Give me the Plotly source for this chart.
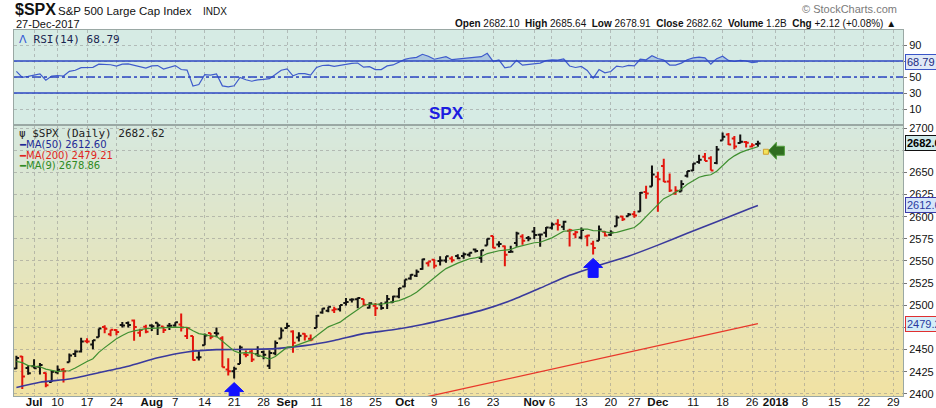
import plotly.graph_objects as go
import pandas as pd

# ---------------- data ----------------
DATES = [
    "2017-06-28", "2017-06-29", "2017-06-30", "2017-07-03", "2017-07-05", "2017-07-06", "2017-07-07",
    "2017-07-10", "2017-07-11", "2017-07-12", "2017-07-13", "2017-07-14",
    "2017-07-17", "2017-07-18", "2017-07-19", "2017-07-20", "2017-07-21",
    "2017-07-24", "2017-07-25", "2017-07-26", "2017-07-27", "2017-07-28",
    "2017-07-31", "2017-08-01", "2017-08-02", "2017-08-03", "2017-08-04",
    "2017-08-07", "2017-08-08", "2017-08-09", "2017-08-10", "2017-08-11",
    "2017-08-14", "2017-08-15", "2017-08-16", "2017-08-17", "2017-08-18",
    "2017-08-21", "2017-08-22", "2017-08-23", "2017-08-24", "2017-08-25",
    "2017-08-28", "2017-08-29", "2017-08-30", "2017-08-31", "2017-09-01",
    "2017-09-05", "2017-09-06", "2017-09-07", "2017-09-08",
    "2017-09-11", "2017-09-12", "2017-09-13", "2017-09-14", "2017-09-15",
    "2017-09-18", "2017-09-19", "2017-09-20", "2017-09-21", "2017-09-22",
    "2017-09-25", "2017-09-26", "2017-09-27", "2017-09-28", "2017-09-29",
    "2017-10-02", "2017-10-03", "2017-10-04", "2017-10-05", "2017-10-06",
    "2017-10-09", "2017-10-10", "2017-10-11", "2017-10-12", "2017-10-13",
    "2017-10-16", "2017-10-17", "2017-10-18", "2017-10-19", "2017-10-20",
    "2017-10-23", "2017-10-24", "2017-10-25", "2017-10-26", "2017-10-27",
    "2017-10-30", "2017-10-31", "2017-11-01", "2017-11-02", "2017-11-03",
    "2017-11-06", "2017-11-07", "2017-11-08", "2017-11-09", "2017-11-10",
    "2017-11-13", "2017-11-14", "2017-11-15", "2017-11-16", "2017-11-17",
    "2017-11-20", "2017-11-21", "2017-11-22", "2017-11-24",
    "2017-11-27", "2017-11-28", "2017-11-29", "2017-11-30", "2017-12-01",
    "2017-12-04", "2017-12-05", "2017-12-06", "2017-12-07", "2017-12-08",
    "2017-12-11", "2017-12-12", "2017-12-13", "2017-12-14", "2017-12-15",
    "2017-12-18", "2017-12-19", "2017-12-20", "2017-12-21", "2017-12-22",
    "2017-12-26", "2017-12-27",
]
OPEN = [
    2428.70, 2442.38, 2429.20, 2431.39, 2430.78, 2423.65, 2413.52,
    2424.51, 2427.35, 2435.75, 2444.99, 2448.02,
    2459.50, 2455.88, 2463.85, 2475.56, 2467.40,
    2472.04, 2477.88, 2479.97, 2482.76, 2469.12,
    2475.94, 2477.10, 2480.38, 2476.03, 2476.88,
    2477.14, 2478.35, 2465.35, 2465.38, 2441.04,
    2454.96, 2468.66, 2468.63, 2462.95, 2427.64,
    2425.50, 2433.75, 2444.88, 2447.91, 2444.72,
    2447.35, 2431.94, 2446.06, 2462.65, 2474.42,
    2470.35, 2463.83, 2468.06, 2462.25,
    2474.52, 2491.94, 2493.89, 2494.56, 2495.67,
    2502.51, 2506.29, 2506.84, 2507.16, 2497.26,
    2499.39, 2501.04, 2503.30, 2503.41, 2510.00,
    2521.20, 2530.34, 2533.48, 2540.86, 2547.44,
    2551.39, 2549.99, 2550.62, 2552.88, 2555.66,
    2555.57, 2557.17, 2562.87, 2553.39, 2567.56,
    2578.08, 2568.66, 2566.52, 2560.08, 2570.26,
    2577.75, 2575.99, 2583.21, 2579.46, 2581.93,
    2587.47, 2592.11, 2588.71, 2584.00, 2580.18,
    2576.53, 2577.75, 2569.45, 2572.95, 2582.94,
    2579.49, 2589.17, 2600.31, 2600.42,
    2602.66, 2605.94, 2627.82, 2633.93, 2645.10,
    2657.19, 2639.78, 2626.24, 2628.38, 2646.21,
    2652.19, 2661.73, 2667.59, 2665.87, 2660.63,
    2685.92, 2692.71, 2688.18, 2683.02, 2684.22,
    2679.09, 2682.10,
]
HIGH = [
    2442.97, 2442.73, 2432.71, 2439.17, 2434.90, 2424.28, 2426.92,
    2432.00, 2429.30, 2445.76, 2449.32, 2463.54,
    2462.82, 2460.92, 2473.83, 2477.62, 2472.54,
    2473.10, 2481.24, 2481.69, 2484.04, 2473.53,
    2477.96, 2478.51, 2480.38, 2476.03, 2480.00,
    2480.95, 2490.87, 2474.41, 2465.38, 2448.09,
    2468.22, 2468.90, 2474.93, 2465.02, 2440.27,
    2430.58, 2454.77, 2448.91, 2450.39, 2453.96,
    2449.12, 2449.19, 2460.31, 2475.01, 2480.38,
    2471.97, 2469.64, 2468.62, 2467.11,
    2488.95, 2496.77, 2498.37, 2498.43, 2500.23,
    2508.32, 2507.84, 2508.85, 2507.16, 2503.47,
    2502.54, 2503.51, 2511.75, 2510.81, 2519.44,
    2529.23, 2535.13, 2540.53, 2552.51, 2549.41,
    2551.82, 2555.23, 2555.24, 2555.33, 2557.65,
    2559.47, 2559.71, 2564.11, 2562.36, 2575.44,
    2578.29, 2572.18, 2567.40, 2567.07, 2582.98,
    2580.03, 2578.29, 2588.40, 2581.11, 2588.42,
    2593.38, 2597.02, 2595.47, 2586.50, 2583.81,
    2587.66, 2579.66, 2572.84, 2590.09, 2583.96,
    2584.64, 2601.19, 2600.94, 2604.21,
    2606.41, 2627.69, 2634.89, 2657.74, 2650.62,
    2665.19, 2648.72, 2634.41, 2640.99, 2651.65,
    2660.33, 2669.72, 2671.88, 2668.09, 2679.63,
    2694.97, 2694.44, 2691.01, 2692.64, 2685.35,
    2682.74, 2685.64,
]
LOW = [
    2428.02, 2405.70, 2421.65, 2428.69, 2422.05, 2407.70, 2413.52,
    2422.27, 2412.79, 2435.75, 2441.69, 2446.69,
    2457.16, 2450.34, 2463.85, 2468.43, 2465.06,
    2466.32, 2474.91, 2474.94, 2459.93, 2464.66,
    2468.53, 2471.14, 2466.48, 2468.85, 2472.08,
    2475.88, 2470.32, 2462.08, 2437.75, 2437.85,
    2454.96, 2461.61, 2463.86, 2430.01, 2420.69,
    2417.35, 2433.67, 2441.42, 2436.19, 2442.22,
    2439.03, 2428.20, 2443.77, 2462.65, 2473.85,
    2446.55, 2459.20, 2460.29, 2459.40,
    2474.52, 2490.37, 2492.14, 2491.35, 2493.16,
    2499.92, 2503.19, 2496.67, 2499.00, 2496.54,
    2488.03, 2495.12, 2495.91, 2502.93, 2507.99,
    2520.40, 2528.85, 2531.80, 2540.02, 2543.79,
    2541.60, 2544.86, 2547.95, 2548.31, 2552.09,
    2552.64, 2554.69, 2559.67, 2547.92, 2567.56,
    2564.33, 2565.58, 2544.00, 2559.80, 2565.94,
    2568.25, 2572.15, 2574.92, 2566.17, 2576.77,
    2585.66, 2584.35, 2585.02, 2566.33, 2575.57,
    2574.48, 2566.56, 2557.45, 2572.95, 2577.62,
    2578.24, 2589.17, 2595.23, 2600.42,
    2598.87, 2605.44, 2620.32, 2633.93, 2605.52,
    2639.03, 2627.73, 2624.75, 2628.38, 2644.10,
    2651.47, 2659.78, 2662.85, 2652.01, 2659.14,
    2685.92, 2680.74, 2676.11, 2682.40, 2678.13,
    2677.96, 2678.91,
]
CLOSE = [
    2440.69, 2419.70, 2423.41, 2429.01, 2432.54, 2409.75, 2425.18,
    2427.43, 2425.53, 2443.25, 2447.83, 2459.27,
    2459.14, 2460.61, 2473.83, 2473.45, 2472.54,
    2469.91, 2477.13, 2477.83, 2475.42, 2472.10,
    2470.30, 2476.35, 2477.57, 2472.16, 2476.83,
    2480.91, 2474.92, 2474.02, 2438.21, 2441.32,
    2465.84, 2464.61, 2468.11, 2430.01, 2425.55,
    2428.37, 2452.51, 2444.04, 2438.97, 2443.05,
    2444.24, 2446.30, 2457.59, 2471.65, 2476.55,
    2457.85, 2465.54, 2465.10, 2461.43,
    2488.11, 2496.48, 2498.37, 2495.62, 2500.23,
    2503.87, 2506.65, 2508.24, 2500.60, 2502.22,
    2496.66, 2496.84, 2507.04, 2510.06, 2519.36,
    2529.12, 2534.58, 2537.74, 2552.07, 2549.33,
    2544.73, 2550.64, 2555.24, 2550.93, 2553.17,
    2557.64, 2559.36, 2561.26, 2562.10, 2575.21,
    2564.98, 2569.13, 2557.15, 2560.40, 2581.07,
    2572.83, 2575.26, 2579.36, 2579.85, 2587.84,
    2591.13, 2590.64, 2594.38, 2584.62, 2582.30,
    2584.84, 2578.87, 2564.62, 2585.64, 2578.85,
    2582.14, 2599.03, 2597.08, 2602.42,
    2601.42, 2627.04, 2626.07, 2647.58, 2642.22,
    2639.44, 2629.57, 2629.27, 2636.98, 2651.50,
    2659.99, 2664.11, 2662.85, 2652.01, 2675.81,
    2690.16, 2681.47, 2679.25, 2684.57, 2683.34,
    2680.50, 2682.62,
]
PRIOR_CLOSE = 2419.38  # close of the session before the first bar

MA9 = [
    2436.80, 2435.30, 2431.97, 2431.07, 2430.73, 2427.98, 2426.53, 2425.23, 2425.92, 2426.20,
    2429.33, 2433.31, 2436.66, 2439.78, 2446.90, 2452.26, 2457.27, 2462.20, 2465.97, 2469.30,
    2471.10, 2472.54, 2473.61, 2473.89, 2474.35, 2474.31, 2475.08, 2475.50, 2475.17, 2475.02,
    2471.25, 2468.03, 2466.86, 2465.42, 2464.97, 2459.77, 2453.62, 2448.45, 2446.06, 2446.71,
    2446.45, 2443.91, 2441.65, 2439.23, 2442.29, 2447.41, 2452.77, 2453.36, 2455.75, 2458.65,
    2460.69, 2465.57, 2471.14, 2475.68, 2478.34, 2480.97, 2486.08, 2490.65, 2495.44, 2499.80,
    2501.36, 2501.38, 2501.21, 2502.48, 2503.58, 2505.30, 2507.79, 2510.72, 2514.85, 2520.39,
    2526.24, 2531.56, 2536.40, 2541.42, 2544.93, 2547.60, 2550.17, 2552.57, 2553.59, 2555.01,
    2558.39, 2559.99, 2561.53, 2562.22, 2563.03, 2565.63, 2567.13, 2568.68, 2570.60, 2571.11,
    2573.65, 2576.10, 2579.82, 2583.60, 2583.99, 2585.04, 2586.11, 2586.05, 2584.36, 2584.12,
    2582.75, 2581.81, 2582.32, 2583.71, 2585.94, 2587.79, 2593.14, 2599.97, 2606.85, 2613.89,
    2620.26, 2623.65, 2627.23, 2631.07, 2636.63, 2640.29, 2644.52, 2646.21, 2647.30, 2651.34,
    2658.08, 2663.88, 2668.57, 2672.25, 2674.84, 2676.66, 2678.86,
]
RSI14 = [
    57.0, 49.6, 50.8, 52.7, 53.9, 45.9, 51.2, 51.9, 51.2, 57.0,
    58.4, 61.7, 61.7, 62.1, 66.0, 65.8, 65.3, 63.7, 66.1, 66.4,
    64.7, 62.3, 61.1, 63.8, 64.3, 60.0, 62.4, 64.3, 59.4, 58.7,
    38.7, 40.6, 52.9, 52.3, 53.9, 38.9, 37.6, 39.0, 49.5, 46.5,
    44.7, 46.5, 47.0, 47.9, 53.0, 58.4, 60.1, 51.4, 54.3, 54.1,
    52.4, 62.0, 64.4, 64.9, 63.4, 64.9, 66.1, 67.0, 67.5, 62.3,
    63.0, 59.2, 59.3, 63.9, 65.1, 68.7, 72.0, 73.7, 74.6, 78.4,
    76.0, 72.2, 74.0, 75.4, 71.6, 72.4, 73.9, 74.5, 75.1, 75.4,
    79.6, 69.6, 71.2, 61.3, 62.8, 70.7, 64.8, 65.7, 67.2, 67.4,
    70.4, 71.5, 71.1, 72.5, 63.8, 61.9, 63.2, 58.2, 48.4, 59.3,
    55.2, 56.8, 63.7, 62.5, 64.5, 63.8, 72.2, 71.5, 76.7, 73.1,
    71.2, 64.9, 64.8, 67.4, 71.6, 73.8, 74.8, 73.9, 66.2, 72.9,
    75.9, 70.7, 69.4, 70.8, 70.0, 68.1, 68.79,
]
MA50_DATES = [
    "2017-06-28", "2017-07-05", "2017-07-12", "2017-07-19", "2017-07-26", "2017-08-02",
    "2017-08-09", "2017-08-16", "2017-08-23", "2017-08-30", "2017-09-07", "2017-09-14",
    "2017-09-21", "2017-09-28", "2017-10-05", "2017-10-12", "2017-10-19", "2017-10-26",
    "2017-11-02", "2017-11-09", "2017-11-16", "2017-11-24", "2017-12-01", "2017-12-08",
    "2017-12-15", "2017-12-22", "2017-12-27",
]
MA50 = [
    2407.2, 2413.2, 2416.9, 2424.0, 2431.3, 2440.8,
    2447.4, 2450.0, 2450.3, 2451.1, 2454.5, 2460.4,
    2468.1, 2472.4, 2478.4, 2486.0, 2494.3, 2505.3,
    2519.4, 2533.8, 2545.0, 2555.4, 2567.9, 2581.4,
    2594.2, 2607.6, 2612.60,
]
MA200_DATES = ["2017-10-05", "2017-10-19", "2017-11-02", "2017-11-16", "2017-12-01", "2017-12-15", "2017-12-27"]
MA200 = [2395.8, 2410.3, 2424.8, 2439.8, 2454.3, 2468.9, 2479.21]

TICK_DATES = [
    "2017-07-03", "2017-07-10", "2017-07-17", "2017-07-24", "2017-08-01", "2017-08-07",
    "2017-08-14", "2017-08-21", "2017-08-28", "2017-09-01", "2017-09-11", "2017-09-18",
    "2017-09-25", "2017-10-02", "2017-10-09", "2017-10-16", "2017-10-23", "2017-11-01",
    "2017-11-06", "2017-11-13", "2017-11-20", "2017-11-27", "2017-12-01", "2017-12-11",
    "2017-12-18", "2017-12-26", "2018-01-01", "2018-01-08", "2018-01-15", "2018-01-22",
    "2018-01-29",
]
TICK_TEXT = [
    "<b>Jul</b>", "10", "17", "24", "<b>Aug</b>", "7",
    "14", "21", "28", "<b>Sep</b>", "11", "18",
    "25", "<b>Oct</b>", "9", "16", "23", "<b>Nov</b>",
    "6", "13", "20", "27", "<b>Dec</b>", "11",
    "18", "26", "<b>2018</b>", "8", "15", "22",
    "29",
]
PRICE_TICKS = [2400, 2425, 2450, 2475, 2500, 2525, 2550, 2575, 2600, 2625, 2650, 2675, 2700]
PRICE_TICK_TEXT = ["2400", "2425", "2450", "", "2500", "2525", "2550", "2575", "2600", "2625", "2650", "", "2700"]
RSI_TICKS = [10, 30, 50, 70, 90]
RSI_TICK_TEXT = ["10", "30", "50", "", "90"]
SIGNAL_DATES = ["2017-08-21", "2017-11-15"]  # blue up-arrows under these bars

assert len(DATES) == len(OPEN) == len(HIGH) == len(LOW) == len(CLOSE) == len(MA9) == len(RSI14)

# ---------------- geometry / styling ----------------
W, H = 936, 408
PL, PR, PT, PB = 14, 903, 30, 396
SPLIT = 125
SPLIT_F = (PB - SPLIT) / (PB - PT)

FUTURE = pd.bdate_range("2017-12-28", "2018-01-31").strftime("%Y-%m-%d").tolist()
CAL = DATES + FUTURE
POS = {d: i for i, d in enumerate(CAL)}
X = [POS[d] for d in DATES]
DAY_PX = 5.885
FIRST_PX = 16.4
XRANGE = [-(FIRST_PX - PL) / DAY_PX, (PR - FIRST_PX) / DAY_PX]

GRID = "rgba(140,140,140,0.5)"
BORDER = "#9aa8a4"
UP_COL = "#111111"
DN_COL = "#e3140c"


def ax(xp):
    return (xp - PL) / (PR - PL)


def ay(yp):
    return (PB - yp) / (PB - PT)


prev = [PRIOR_CLOSE] + CLOSE[:-1]
up_idx = [i for i in range(len(CLOSE)) if CLOSE[i] >= prev[i]]
dn_idx = [i for i in range(len(CLOSE)) if CLOSE[i] < prev[i]]


def ohlc(idx, col):
    return go.Ohlc(
        x=[X[i] for i in idx], open=[OPEN[i] for i in idx], high=[HIGH[i] for i in idx],
        low=[LOW[i] for i in idx], close=[CLOSE[i] for i in idx],
        increasing=dict(line=dict(color=col, width=2)),
        decreasing=dict(line=dict(color=col, width=2)),
        tickwidth=0.45, xaxis="x", yaxis="y", hoverinfo="skip", showlegend=False,
    )


traces = []
# RSI panel
traces.append(go.Scatter(x=X, y=[70] * len(X), mode="lines", line=dict(width=0),
                         xaxis="x2", yaxis="y2", hoverinfo="skip"))
traces.append(go.Scatter(x=X, y=[max(v, 70) for v in RSI14], mode="lines", line=dict(width=0),
                         fill="tonexty", fillcolor="rgba(95,135,215,0.35)",
                         xaxis="x2", yaxis="y2", hoverinfo="skip"))
traces.append(go.Scatter(x=X, y=RSI14, mode="lines", line=dict(color="#3f5ccc", width=1.2),
                         xaxis="x2", yaxis="y2", hoverinfo="skip"))
# price panel
traces.append(go.Scatter(x=[POS[d] for d in MA200_DATES], y=MA200, mode="lines",
                         line=dict(color="#e8382a", width=1.3), xaxis="x", yaxis="y"))
traces.append(go.Scatter(x=[POS[d] for d in MA50_DATES], y=MA50, mode="lines",
                         line=dict(color="#3a3a9c", width=1.6, shape="spline", smoothing=0.6),
                         xaxis="x", yaxis="y"))
traces.append(go.Scatter(x=X, y=MA9, mode="lines", line=dict(color="#3f8f30", width=1.2),
                         xaxis="x", yaxis="y"))
traces.append(ohlc(up_idx, UP_COL))
traces.append(ohlc(dn_idx, DN_COL))

fig = go.Figure(data=traces)

# ---------------- shapes ----------------
shapes = []
N = 60
top = (214, 232, 222)
bot = (241, 226, 163)
for k in range(N):
    f = (k + 0.5) / N
    c = tuple(round(bot[j] + (top[j] - bot[j]) * f) for j in range(3))
    shapes.append(dict(type="rect", xref="x domain", yref="y domain", x0=0, x1=1,
                       y0=k / N, y1=min(1, (k + 1.6) / N), layer="below",
                       fillcolor="rgb(%d,%d,%d)" % c, line=dict(width=0)))
for lvl, dash in ((70, "solid"), (30, "solid"), (50, "dashdot")):
    shapes.append(dict(type="line", xref="x2 domain", yref="y2", x0=0, x1=1, y0=lvl, y1=lvl,
                       line=dict(color="#2d47c4", width=1.3, dash=dash)))

ARROW_UP = "M 0,-4 L 9.5,-13 L 5,-13 L 5,-23 L -5,-23 L -5,-13 L -9.5,-13 Z"
for d in SIGNAL_DATES:
    i = DATES.index(d)
    shapes.append(dict(type="path", xref="x", yref="y", xsizemode="pixel", ysizemode="pixel",
                       xanchor=X[i], yanchor=LOW[i], path=ARROW_UP,
                       fillcolor="#1212ff", line=dict(color="#1212ff", width=1)))
# green marker arrow and yellow square next to the last bar
shapes.append(dict(type="path", xref="x", yref="y", xsizemode="pixel", ysizemode="pixel",
                   xanchor=X[-1], yanchor=MA9[-1],
                   path="M 10.5,-4 L 18.5,4.5 L 18.5,0.5 L 26.5,0.5 L 26.5,-8.5 L 18.5,-8.5 L 18.5,-12.5 Z",
                   fillcolor="#2f6d1f", line=dict(color="#55a040", width=1)))
shapes.append(dict(type="rect", xref="x", yref="y", xsizemode="pixel", ysizemode="pixel",
                   xanchor=X[-1], yanchor=MA9[-1], x0=5.5, x1=10.5, y0=-7.5, y1=-2.5,
                   fillcolor="#f3e35a", line=dict(color="#d0a030", width=1)))

# ---------------- annotations ----------------
ann = []


def text(xp, yp, s, size=11, color="#111", family="Liberation Sans, Arial, sans-serif",
         xanchor="left"):
    ann.append(dict(x=ax(xp), y=ay(yp), xref="paper", yref="paper", text=s, showarrow=False,
                    xanchor=xanchor, yanchor="middle",
                    font=dict(size=size, color=color, family=family)))


text(13, 10, "<b>$SPX</b>", size=16)
text(56, 11, "S&P 500 Large Cap Index", size=11.5)
text(201, 11, "INDX", size=10)
text(14, 24, "27-Dec-2017", size=11)
text(899, 9, "© StockCharts.com", size=11, color="#7a7a7a", xanchor="right")
chg = CLOSE[-1] - CLOSE[-2]
hdr = ("<b>Open</b> %.2f  <b>High</b> %.2f  <b>Low</b> %.2f  <b>Close</b> %.2f  "
       "<b>Volume</b> 1.2B  <b>Chg</b> %+.2f (%+.2f%%) ▲"
       % (OPEN[-1], HIGH[-1], LOW[-1], CLOSE[-1], chg, chg / CLOSE[-2] * 100))
text(898, 24, hdr, size=10, xanchor="right")

MONO = "DejaVu Sans Mono, monospace"
SANS = "DejaVu Sans, Verdana, sans-serif"
text(17, 39, "<span style='color:#2f55d4'>ᐱ</span> RSI(14) %.2f" % RSI14[-1], size=11,
     color="#1b2550", family=MONO)
text(17, 133, "ψ $SPX (Daily) %.2f" % CLOSE[-1], size=11, color="#222", family=MONO)
text(17, 144, "━MA(50) %.2f" % MA50[-1], size=10, color="#1f2a96", family=SANS)
text(17, 155, "━MA(200) %.2f" % MA200[-1], size=10, color="#e0241c", family=SANS)
text(17, 165, "━MA(9) %.2f" % MA9[-1], size=10, color="#2f8a23", family=SANS)
text(446, 113, "<b>SPX</b>", size=17, color="#1c1ce0", xanchor="center")


def tag(val, yref, s, border, bg, fcol, bold=False):
    ann.append(dict(x=1, xref="paper", y=val, yref=yref, text=("<b>%s</b>" % s) if bold else s,
                    showarrow=False, xanchor="left", yanchor="middle", xshift=2,
                    bordercolor=border, borderwidth=1, borderpad=1, bgcolor=bg,
                    font=dict(size=11, color=fcol, family="Liberation Sans, Arial, sans-serif")))


tag(RSI14[-1], "y2", "%.2f" % RSI14[-1], "#3a55c8", "#dfe9f7", "#1a2a80")
tag(CLOSE[-1], "y", "%.2f" % CLOSE[-1], "#111111", "#cfeaea", "#000", bold=True)
tag(MA50[-1], "y", "%.2f" % MA50[-1], "#3a3aa8", "#d6e6fa", "#2a3aa0")
tag(MA200[-1], "y", "%.2f" % MA200[-1], "#e03030", "#d4eef8", "#2a3aa0")

# ---------------- layout ----------------
axis_common = dict(showline=True, linecolor=BORDER, linewidth=1, mirror=True, zeroline=False,
                   showgrid=True, gridcolor=GRID, griddash="dot", gridwidth=1, fixedrange=True,
                   automargin=False)
xtv = [POS[d] for d in TICK_DATES]

fig.update_layout(
    width=W, height=H,
    margin=dict(l=PL, r=W - PR, t=PT, b=H - PB, pad=0, autoexpand=False),
    paper_bgcolor="white", plot_bgcolor="#d6ebe4",
    font=dict(family="Liberation Sans, Arial, sans-serif", size=11, color="#111"),
    showlegend=False, hovermode=False,
    xaxis=dict(domain=[0, 1], anchor="y", range=XRANGE, tickmode="array", tickvals=xtv,
               ticktext=TICK_TEXT, ticks="", ticklen=0, ticklabelstandoff=-5,
               tickfont=dict(size=11.5, color="#111"),
               rangeslider=dict(visible=False), **axis_common),
    yaxis=dict(domain=[0, SPLIT_F], anchor="x", side="right", range=[2397.7, 2703.4],
               tickmode="array", tickvals=PRICE_TICKS, ticktext=PRICE_TICK_TEXT,
               ticks="outside", ticklen=3,
               tickcolor="#777", tickfont=dict(size=11, color="#111"), **axis_common),
    xaxis2=dict(domain=[0, 1], anchor="y2", matches="x", tickmode="array", tickvals=xtv,
                showticklabels=False, ticks="", **axis_common),
    yaxis2=dict(domain=[SPLIT_F, 1], anchor="x2", side="right", range=[-10, 108.75],
                tickmode="array", tickvals=RSI_TICKS, ticktext=RSI_TICK_TEXT,
                ticks="outside", ticklen=3,
                tickcolor="#777", tickfont=dict(size=11, color="#111"), **axis_common),
    shapes=shapes, annotations=ann,
)

fig.write_html(
    "out.html",
    config={"displayModeBar": False, "staticPlot": True},
    post_script="document.body.style.margin='0';document.body.style.overflow='hidden';",
)
